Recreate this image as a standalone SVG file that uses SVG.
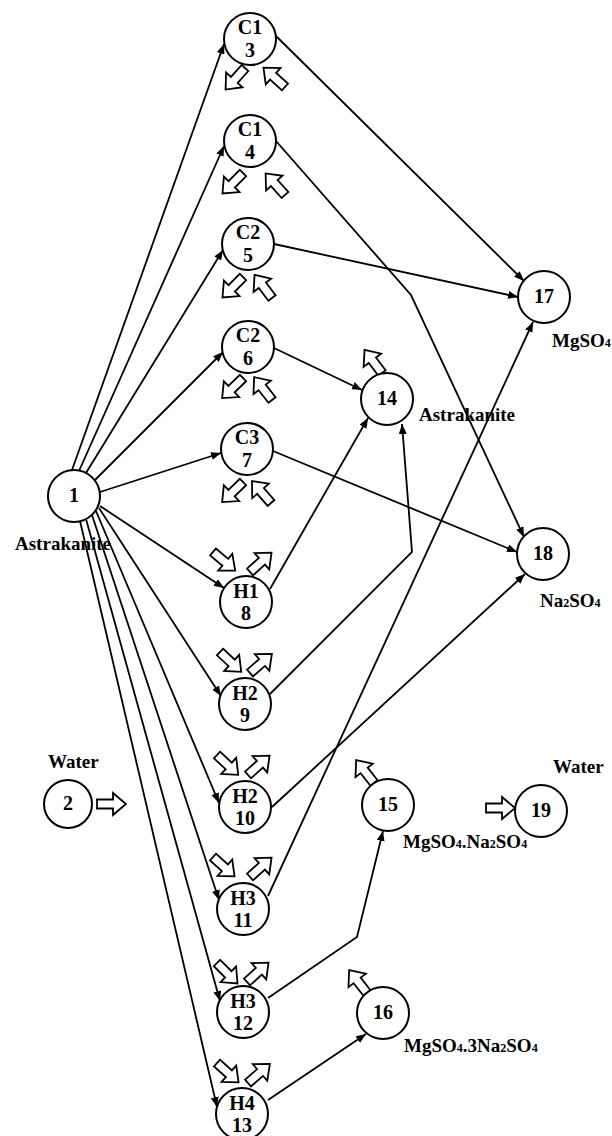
<svg xmlns="http://www.w3.org/2000/svg" xmlns:xlink="http://www.w3.org/1999/xlink" width="612" height="1136" viewBox="0 0 612 1136">
<style>
.n{fill:#fff;stroke:#000;stroke-width:2}
.t{font-family:"Liberation Serif","Times New Roman",serif;font-weight:bold;font-size:19px;fill:#000}
.c{text-anchor:middle;font-size:20px}
.s{font-size:12px}
.e{fill:none;stroke:#000;stroke-width:1.8}
.h{fill:#fff;stroke:#000;stroke-width:1.8;stroke-linejoin:miter}
</style>
<defs>
<marker id="ar" viewBox="0 0 10 8" refX="10" refY="4" markerWidth="10" markerHeight="8" markerUnits="userSpaceOnUse" orient="auto">
<path d="M0,0 L10,4 L0,8 Z" fill="#000"/>
</marker>
<path id="ha" d="M0,-4.5 L16,-4.5 L16,-11 L29,0 L16,11 L16,4.5 L0,4.5 Z"/>
</defs>
<g id="connectors">
<line class="e" x1="72" y1="470" x2="224" y2="44" marker-end="url(#ar)"/>
<line class="e" x1="79" y1="471" x2="224" y2="146" marker-end="url(#ar)"/>
<line class="e" x1="86" y1="473" x2="223" y2="250" marker-end="url(#ar)"/>
<line class="e" x1="95" y1="480" x2="223" y2="352" marker-end="url(#ar)"/>
<line class="e" x1="100" y1="492" x2="221" y2="453" marker-end="url(#ar)"/>
<line class="e" x1="100" y1="506" x2="224" y2="588" marker-end="url(#ar)"/>
<line class="e" x1="99" y1="508" x2="221" y2="696" marker-end="url(#ar)"/>
<line class="e" x1="96" y1="511" x2="219" y2="803" marker-end="url(#ar)"/>
<line class="e" x1="92" y1="515" x2="219" y2="900" marker-end="url(#ar)"/>
<line class="e" x1="86" y1="519" x2="220" y2="1001" marker-end="url(#ar)"/>
<line class="e" x1="80" y1="521" x2="217" y2="1107" marker-end="url(#ar)"/>
<line class="e" x1="276" y1="36" x2="524" y2="281" marker-end="url(#ar)"/>
<polyline class="e" points="276,141 411,295 524,537" marker-end="url(#ar)"/>
<line class="e" x1="274" y1="244" x2="518" y2="297" marker-end="url(#ar)"/>
<line class="e" x1="274" y1="348" x2="362" y2="390" marker-end="url(#ar)"/>
<line class="e" x1="273" y1="451" x2="517" y2="552" marker-end="url(#ar)"/>
<line class="e" x1="270" y1="589" x2="368" y2="418" marker-end="url(#ar)"/>
<polyline class="e" points="270,694 412,552 402,424" marker-end="url(#ar)"/>
<line class="e" x1="272" y1="807" x2="525" y2="574" marker-end="url(#ar)"/>
<line class="e" x1="268" y1="896" x2="533" y2="322" marker-end="url(#ar)"/>
<polyline class="e" points="268,998 357,937 383,831" marker-end="url(#ar)"/>
<line class="e" x1="268" y1="1100" x2="366" y2="1034" marker-end="url(#ar)"/>
</g>
<g id="flows">
<use xlink:href="#ha" class="h" transform="translate(245,68) rotate(132)"/>
<use xlink:href="#ha" class="h" transform="translate(285,87) rotate(222)"/>
<use xlink:href="#ha" class="h" transform="translate(243,173) rotate(135)"/>
<use xlink:href="#ha" class="h" transform="translate(285,195) rotate(228)"/>
<use xlink:href="#ha" class="h" transform="translate(243,277) rotate(135)"/>
<use xlink:href="#ha" class="h" transform="translate(272,298) rotate(233)"/>
<use xlink:href="#ha" class="h" transform="translate(243,378) rotate(136)"/>
<use xlink:href="#ha" class="h" transform="translate(272,400) rotate(232)"/>
<use xlink:href="#ha" class="h" transform="translate(243,482) rotate(136)"/>
<use xlink:href="#ha" class="h" transform="translate(271,503) rotate(229)"/>
<use xlink:href="#ha" class="h" transform="translate(213,552) rotate(40)"/>
<use xlink:href="#ha" class="h" transform="translate(250,572) rotate(-42)"/>
<use xlink:href="#ha" class="h" transform="translate(220,652) rotate(43)"/>
<use xlink:href="#ha" class="h" transform="translate(250,673) rotate(-41)"/>
<use xlink:href="#ha" class="h" transform="translate(217,755) rotate(43)"/>
<use xlink:href="#ha" class="h" transform="translate(248,775) rotate(-42)"/>
<use xlink:href="#ha" class="h" transform="translate(213,857) rotate(42)"/>
<use xlink:href="#ha" class="h" transform="translate(250,877) rotate(-42)"/>
<use xlink:href="#ha" class="h" transform="translate(217,963) rotate(45)"/>
<use xlink:href="#ha" class="h" transform="translate(247,982) rotate(-42)"/>
<use xlink:href="#ha" class="h" transform="translate(217,1063) rotate(42)"/>
<use xlink:href="#ha" class="h" transform="translate(248,1083) rotate(-41)"/>
<use xlink:href="#ha" class="h" transform="translate(382,373) rotate(233)"/>
<use xlink:href="#ha" class="h" transform="translate(374,783) rotate(232)"/>
<use xlink:href="#ha" class="h" transform="translate(367,993) rotate(232)"/>
<use xlink:href="#ha" class="h" transform="translate(97,804) rotate(0)"/>
<use xlink:href="#ha" class="h" transform="translate(486,808) rotate(0)"/>
</g>
<g id="n1"><circle class="n" cx="74" cy="496" r="26"/><text class="t c" x="74" y="502">1</text><text class="t" x="15" y="550">Astrakanite</text></g>
<g id="n2"><circle class="n" cx="68" cy="804" r="24"/><text class="t c" x="68" y="810">2</text><text class="t" x="48" y="768">Water</text></g>
<g id="n3"><circle class="n" cx="250" cy="39" r="26"/><text class="t c" x="250" y="34">C1</text><text class="t c" x="250" y="57">3</text></g>
<g id="n4"><circle class="n" cx="250" cy="141" r="26"/><text class="t c" x="250" y="136">C1</text><text class="t c" x="250" y="159">4</text></g>
<g id="n5"><circle class="n" cx="248" cy="244" r="26"/><text class="t c" x="248" y="239">C2</text><text class="t c" x="248" y="262">5</text></g>
<g id="n6"><circle class="n" cx="248" cy="347" r="26"/><text class="t c" x="248" y="342">C2</text><text class="t c" x="248" y="365">6</text></g>
<g id="n7"><circle class="n" cx="247" cy="449" r="26"/><text class="t c" x="247" y="444">C3</text><text class="t c" x="247" y="467">7</text></g>
<g id="n8"><circle class="n" cx="246" cy="602" r="26"/><text class="t c" x="246" y="598">H1</text><text class="t c" x="246" y="620">8</text></g>
<g id="n9"><circle class="n" cx="245" cy="704" r="26"/><text class="t c" x="245" y="700">H2</text><text class="t c" x="245" y="722">9</text></g>
<g id="n10"><circle class="n" cx="245" cy="807" r="26"/><text class="t c" x="245" y="803">H2</text><text class="t c" x="245" y="825">10</text></g>
<g id="n11"><circle class="n" cx="243" cy="909" r="26"/><text class="t c" x="243" y="905">H3</text><text class="t c" x="243" y="927">11</text></g>
<g id="n12"><circle class="n" cx="243" cy="1012" r="26"/><text class="t c" x="243" y="1008">H3</text><text class="t c" x="243" y="1030">12</text></g>
<g id="n13"><circle class="n" cx="242" cy="1114" r="26"/><text class="t c" x="242" y="1110">H4</text><text class="t c" x="242" y="1132">13</text></g>
<g id="n14"><circle class="n" cx="387" cy="399" r="26"/><text class="t c" x="387" y="405">14</text><text class="t" x="419" y="421">Astrakanite</text></g>
<g id="n15"><circle class="n" cx="388" cy="805" r="26"/><text class="t c" x="388" y="811">15</text><text class="t" x="403" y="848">MgSO<tspan class="s">4</tspan>.Na<tspan class="s">2</tspan>SO<tspan class="s">4</tspan></text></g>
<g id="n16"><circle class="n" cx="383" cy="1013" r="26"/><text class="t c" x="383" y="1019">16</text><text class="t" x="404" y="1052">MgSO<tspan class="s">4</tspan>.3Na<tspan class="s">2</tspan>SO<tspan class="s">4</tspan></text></g>
<g id="n17"><circle class="n" cx="544" cy="297" r="26"/><text class="t c" x="544" y="303">17</text><text class="t" x="552" y="347">MgSO<tspan class="s">4</tspan></text></g>
<g id="n18"><circle class="n" cx="543" cy="554" r="26"/><text class="t c" x="543" y="560">18</text><text class="t" x="540" y="607">Na<tspan class="s">2</tspan>SO<tspan class="s">4</tspan></text></g>
<g id="n19"><circle class="n" cx="541" cy="811" r="26"/><text class="t c" x="541" y="817">19</text><text class="t" x="553" y="773">Water</text></g>
</svg>
